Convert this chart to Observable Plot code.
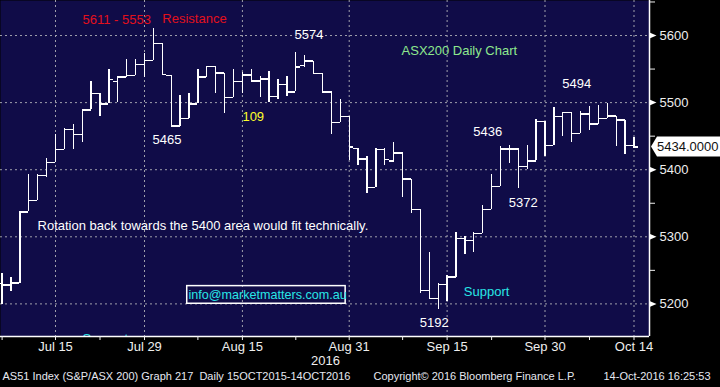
<!DOCTYPE html>
<html><head><meta charset="utf-8">
<script src="https://cdn.jsdelivr.net/npm/d3@7"></script>
<script src="https://cdn.jsdelivr.net/npm/@observablehq/plot@0.6"></script>
<style>
html,body{margin:0;padding:0;background:#000;}
#chart{width:720px;height:387px;overflow:hidden;}
</style></head><body><div id="chart"></div>
<script>
// Trading days shown (Jul 7 – Oct 14, 2016)
const days = [
  "Jul 7","Jul 8","Jul 11","Jul 12","Jul 13","Jul 14","Jul 15","Jul 18","Jul 19","Jul 20","Jul 21","Jul 22","Jul 25","Jul 26","Jul 27","Jul 28","Jul 29",
  "Aug 1","Aug 2","Aug 3","Aug 4","Aug 5","Aug 8","Aug 9","Aug 10","Aug 11","Aug 12","Aug 15","Aug 16","Aug 17","Aug 18","Aug 19","Aug 22","Aug 23","Aug 24","Aug 25","Aug 26","Aug 29","Aug 30","Aug 31",
  "Sep 1","Sep 2","Sep 5","Sep 6","Sep 7","Sep 8","Sep 9","Sep 12","Sep 13","Sep 14","Sep 15","Sep 16","Sep 19","Sep 20","Sep 21","Sep 22","Sep 23","Sep 26","Sep 27","Sep 28","Sep 29","Sep 30",
  "Oct 3","Oct 4","Oct 5","Oct 6","Oct 7","Oct 10","Oct 11","Oct 12","Oct 13","Oct 14"
];
const open = [5230,5228,5231,5337,5354,5391,5411,5430,5460,5452, 5489,5514,5498,5531,5538,5540,5557,5563,5588,5540,
  5465,5476,5498,5538,5554,5544,5508,5531,5541,5532, 5535,5509,5527,5516,5555,5562,5543,5516,5470,5479,
  5432,5416,5373,5430,5413,5425,5386,5341,5220,5208, 5229,5240,5297,5295,5305,5341,5375,5431,5431,5405,
  5413,5472,5436,5479,5485,5454,5483,5468,5476,5480, 5474,5436];
const high = [5246,5239,5337,5393,5393,5417,5453,5462,5467,5489, 5532,5514,5549,5538,5565,5565,5573,5611,5588,5540,
  5511,5514,5550,5554,5554,5544,5549,5545,5550,5539, 5546,5534,5539,5574,5570,5562,5543,5516,5505,5479,
  5432,5420,5431,5431,5440,5425,5386,5341,5276,5231, 5243,5306,5301,5307,5347,5393,5434,5436,5431,5436,
  5475,5472,5493,5485,5485,5487,5494,5496,5499,5480, 5474,5448];
const low = [5199,5219,5231,5337,5354,5388,5411,5430,5430,5441, 5489,5480,5498,5500,5538,5540,5537,5563,5542,5465,
  5465,5476,5498,5538,5514,5484,5508,5513,5532,5508, 5500,5505,5509,5516,5553,5543,5516,5453,5470,5414,
  5406,5364,5373,5406,5411,5359,5334,5216,5208,5192, 5204,5240,5274,5277,5305,5341,5375,5409,5372,5401,
  5413,5419,5436,5450,5441,5454,5458,5468,5476,5435, 5422,5431];
const close = [5228,5231,5337,5354,5391,5411,5430,5460,5452,5489, 5514,5498,5534,5538,5540,5557,5563,5588,5542,5465,
  5476,5498,5538,5554,5544,5508,5531,5541,5532,5535, 5509,5527,5516,5553,5562,5543,5516,5470,5479,5434,
  5416,5373,5430,5415,5425,5386,5341,5220,5208,5229, 5240,5297,5295,5305,5341,5375,5431,5431,5405,5413,
  5472,5436,5479,5485,5454,5483,5468,5476,5480,5474, 5436,5434];

const majorTickLabels = ["Jul 15","Jul 29","Aug 15","Aug 31","Sep 15","Sep 30","Oct 14"];
const minorTickLabels = ["Jul 7","Jul 22","Aug 8","Aug 23","Sep 8","Sep 22","Oct 7"];
const yMajor = [5200,5300,5400,5500,5600];
const yMinor = [5250,5350,5450,5550,5650];
const lastPrice = 5434.0;

const rows = days.map((d, i) => ({i, day: d, open: open[i], high: high[i], low: low[i], close: close[i]}));
const majorIdx = majorTickLabels.map(l => days.indexOf(l));
const minorIdx = minorTickLabels.map(l => days.indexOf(l));

const FONT = "'Liberation Sans', Arial, sans-serif";
const navy = "#100c48";
const gridStyle = {stroke: "#a0a0ac", strokeOpacity: 1, strokeDasharray: "2,3", strokeWidth: 1};

const rightTri = {draw(ctx) { ctx.moveTo(0, -3); ctx.lineTo(7, 0); ctx.lineTo(0, 3); ctx.closePath(); }};

function priceTag(index, scales, values, dimensions) {
  const yv = Math.round(scales.y(lastPrice)) + 0.5;
  const x0 = dimensions.width - dimensions.marginRight + 2;
  const g = d3.create("svg:g");
  g.append("path")
    .attr("d", `M${x0},${yv} L${x0 + 6},${yv - 10} H${dimensions.width} V${yv + 10} H${x0 + 6} Z`)
    .attr("fill", "white");
  g.append("text").attr("x", x0 + 6).attr("y", yv).attr("dy", "0.35em")
    .attr("text-anchor", "start")
    .attr("fill", "#111").style("font", `13px ${FONT}`)
    .text(lastPrice.toFixed(4));
  return g.node();
}

const notes = [
  {t: "5611 - 5553", i: 9.03, v: 5624, c: "#e3101c"},
  {t: "Resistance", i: 18.0, v: 5625, c: "#e3101c"},
  {t: "5574", i: 32.85, v: 5601, c: "#ffffff"},
  {t: "ASX200 Daily Chart", i: 44.88, v: 5577, c: "#8ee88e"},
  {t: "5494", i: 62.93, v: 5528, c: "#ffffff"},
  {t: "5436", i: 52.93, v: 5457, c: "#ffffff"},
  {t: "5465", i: 16.9, v: 5445, c: "#ffffff"},
  {t: "109", i: 27.0, v: 5479, c: "#ffff2a"},
  {t: "5372", i: 56.93, v: 5350, c: "#ffffff"},
  {t: "Rotation back towards the 5400 area would fit technically.", i: 3.98, v: 5317, c: "#ffffff"},
  {t: "Support", i: 51.88, v: 5218.5, c: "#28e6e6"},
  {t: "5192", i: 46.93, v: 5172, c: "#ffffff"},
  {t: "Support", i: 9.03, v: 5148, c: "#28e6e6"}
];
const emailNote = [{t: "info@marketmatters.com.au", i: 20.94, v: 5213, c: "#28e6e6"}];

const chart = Plot.plot({
  width: 720,
  height: 387,
  marginLeft: 0,
  marginTop: 0,
  marginRight: 71,
  marginBottom: 51,
  style: {background: "#000", fontFamily: FONT, fontSize: "13px", color: "white"},
  x: {type: "linear", domain: [-0.18, 72.74]},
  y: {domain: [5151.4, 5652.2]},
  marks: [
    Plot.frame({fill: navy, stroke: null}),
    Plot.gridY(yMajor, gridStyle),
    Plot.gridX(majorIdx, gridStyle),
    // OHLC bars
    Plot.ruleX(rows, {x: "i", y1: "low", y2: "high", stroke: "white", strokeWidth: 1.3, shapeRendering: "crispEdges"}),
    Plot.ruleY(rows, {y: "open", x1: d => d.i - 0.5, x2: "i", stroke: "white", strokeWidth: 1.3, shapeRendering: "crispEdges", clip: true}),
    Plot.ruleY(rows, {y: "close", x1: "i", x2: d => d.i + 0.5, stroke: "white", strokeWidth: 1.3, shapeRendering: "crispEdges", clip: true}),
    // email box
    Plot.rect([{}], {x1: 20.8, x2: 38.6, y1: 5200.2, y2: 5226.5, fill: null, stroke: "white", strokeWidth: 1.5}),
    // annotations
    Plot.text(notes, {x: "i", y: "v", text: "t", fill: "c", textAnchor: "start", fontSize: 13, clip: true}),
    Plot.text(emailNote, {x: "i", y: "v", text: "t", fill: "c", textAnchor: "start", fontSize: 12.6}),
    // axes lines
    Plot.ruleX([72.74], {stroke: "white", strokeWidth: 1.5}),
    Plot.ruleY([5151.4], {stroke: "white", strokeWidth: 1.5}),
    Plot.axisX(majorIdx, {anchor: "bottom", tickSize: 4, tickPadding: 1, tickFormat: i => days[i], color: "#eeeeee", fontSize: 13, label: null}),
    Plot.axisX(minorIdx, {anchor: "bottom", tickSize: 4, tickFormat: () => "", color: "#eeeeee", label: null}),
    Plot.axisY(yMajor, {anchor: "right", tickSize: 0, tickPadding: 10, tickFormat: d => String(d), color: "#eeeeee", fontSize: 13, label: null}),
    Plot.axisY(yMinor, {anchor: "right", tickSize: 5, tickFormat: () => "", color: "#eeeeee", label: null}),
    Plot.dot(yMajor, {y: d => d, frameAnchor: "right", symbol: rightTri, fill: "white", stroke: null, r: 3}),
    priceTag,
    // year & footer
    Plot.text(["2016"], {frameAnchor: "bottom-left", dx: 325, dy: 28, textAnchor: "middle", fill: "#eeeeee", fontSize: 13}),
    Plot.text(["AS51 Index (S&P/ASX 200) Graph 217  Daily 15OCT2015-14OCT2016"], {frameAnchor: "bottom-left", dx: 2, dy: 43, textAnchor: "start", fill: "#e6e8f0", fontSize: 11}),
    Plot.text(["Copyright\u00a9 2016 Bloomberg Finance L.P."], {frameAnchor: "bottom-left", dx: 373, dy: 43, textAnchor: "start", fill: "#e6e8f0", fontSize: 11}),
    Plot.text(["14-Oct-2016 16:25:53"], {frameAnchor: "bottom-left", dx: 603, dy: 43, textAnchor: "start", fill: "#e6e8f0", fontSize: 11})
  ]
});
document.getElementById("chart").appendChild(chart);
</script>
</body></html>
